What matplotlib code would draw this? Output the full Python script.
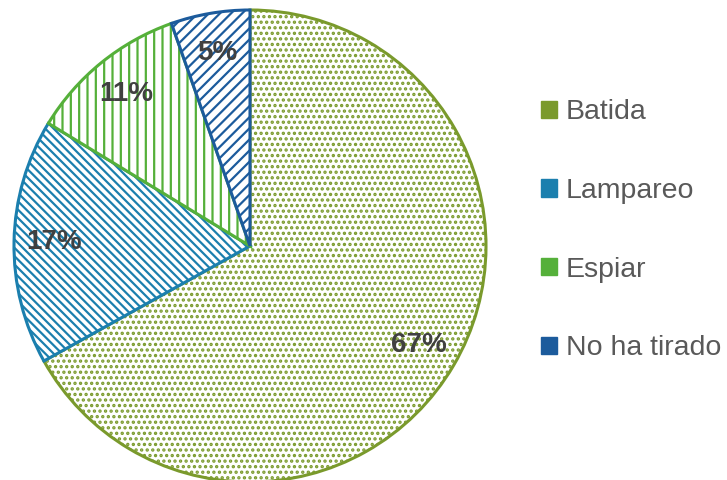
import matplotlib
matplotlib.use('Agg')
import matplotlib.pyplot as plt
from matplotlib.patches import Patch

plt.rcParams['font.family'] = ['Liberation Sans', 'DejaVu Sans']
plt.rcParams['hatch.linewidth'] = 1.6

categories = ['Batida', 'Lampareo', 'Espiar', 'No ha tirado']
values = [66.9, 16.8, 10.9, 5.4]
colors = ['#7a9a2c', '#1b7fae', '#55b03a', '#1c5b9c']
hatches = ['...', '\\\\\\\\', '||', '///']

fig = plt.figure(figsize=(7.27, 4.8), dpi=100)
fig.patch.set_facecolor('white')
ax = fig.add_axes([(250 - 236) / 727, (234 - 236) / 480, 472 / 727, 472 / 480])

wedges, texts, autotexts = ax.pie(
    values, startangle=90, counterclock=False, radius=1,
    colors=['white'] * len(values),
    autopct='%1.0f%%', pctdistance=0.83,
    wedgeprops=dict(linewidth=2.2),
    textprops=dict(fontsize=20, fontweight='bold', color='#404040'))

for w, c, h in zip(wedges, colors, hatches):
    w.set_edgecolor(c)
    w.set_hatch(h)

ax.set_xlim(-1, 1)
ax.set_ylim(-1, 1)
ax.set_aspect('equal')
ax.axis('off')

handles = [Patch(facecolor=c, edgecolor=c, linewidth=1) for c in colors]
fig.legend(handles, categories, loc='upper left', bbox_to_anchor=(530 / 727, 1 - 88 / 480),
           frameon=False, fontsize=20.5, labelcolor='#595959',
           handlelength=0.55, handleheight=0.55, handletextpad=0.3,
           labelspacing=1.85, borderaxespad=0)

fig.savefig('out.png', dpi=100, facecolor='white')
